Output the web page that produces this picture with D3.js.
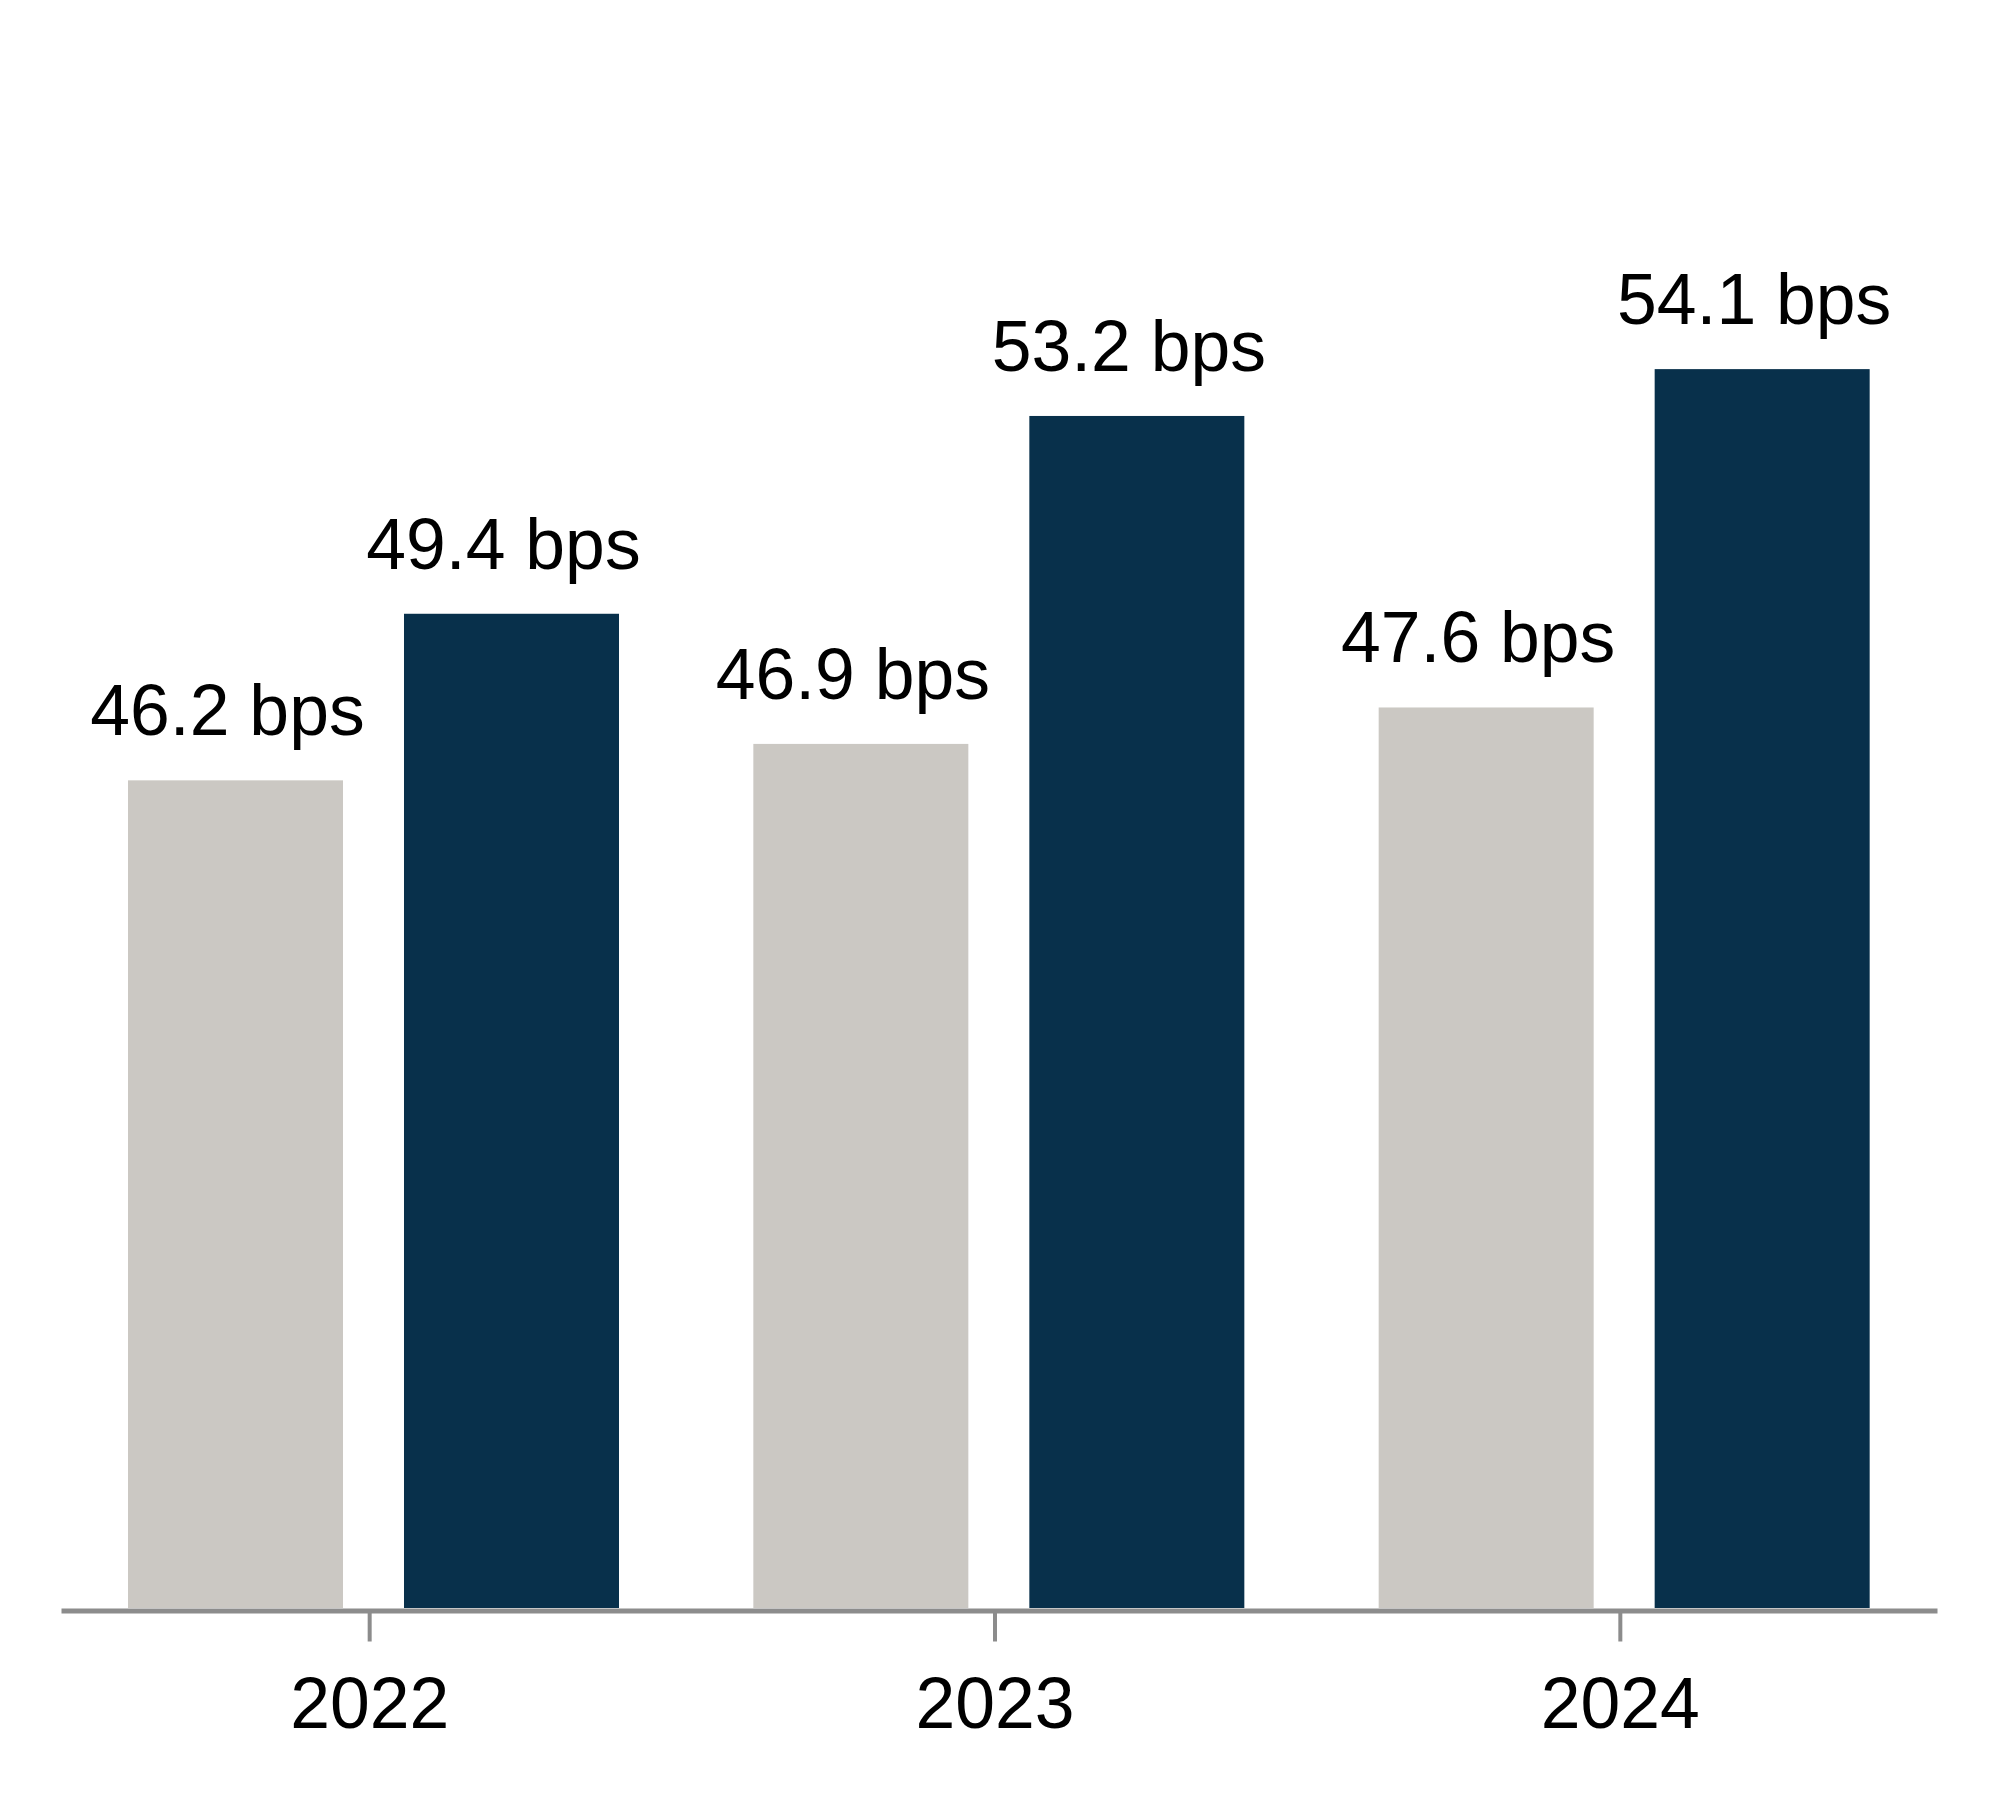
<!DOCTYPE html>
<meta charset="utf-8">
<head>
  <title>bps by year</title>
</head>

<style>
body {
  margin: 0;
  background: #fff;
}
text {
  font-family: "Liberation Sans", Arial, Helvetica, sans-serif;
  fill: #000;
}
.label {
  text-anchor: middle;
  font-size: 71.5px;
}
</style>

<body>
  <svg width="1998" height="1800"></svg>

  <script src="https://cdnjs.cloudflare.com/ajax/libs/d3/7.8.5/d3.min.js"></script>
  <script>
var width = 1998, height = 1800

var years = ['2022', '2023', '2024']
var series = ['a', 'b']
var valuesA = [46.2, 46.9, 47.6]
var valuesB = [49.4, 53.2, 54.1]
var colors = ['#cbc8c3', '#08304b']

var rows = years.map(function(y, i) {
  return { year: y, vals: [valuesA[i], valuesB[i]] }
})

var svg = d3.select('svg')

var x0 = d3.scaleBand()
  .domain(years)
  .range([61, 1937])

var x1 = d3.scaleBand()
  .domain(series)
  .range([67, 558])
  .paddingInner(0.221)

var y = d3.scaleLinear()
  .domain([30.3, 60])
  .range([1608, 62])

var groups = svg.append('g')
  .selectAll('g')
  .data(rows)
  .enter()
  .append('g')
  .attr('transform', function(d) { return 'translate(' + x0(d.year) + ',0)' })

groups.selectAll('rect')
  .data(function(d) { return d.vals.map(function(v, i) { return { s: series[i], v: v, i: i } }) })
  .enter()
  .append('rect')
  .attr('x', function(d) { return x1(d.s) })
  .attr('width', x1.bandwidth())
  .attr('y', function(d) { return y(d.v) })
  .attr('height', function(d) { return y.range()[0] - y(d.v) })
  .attr('fill', function(d) { return colors[d.i] })

groups.selectAll('text')
  .data(function(d) { return d.vals.map(function(v, i) { return { s: series[i], v: v } }) })
  .enter()
  .append('text')
  .attr('class', 'label')
  .attr('x', function(d) { return x1(d.s) + x1.bandwidth() / 2 - 8 })
  .attr('y', function(d) { return y(d.v) - 45 })
  .text(function(d) { return d3.format('.1f')(d.v) + ' bps' })

// x axis
var axis = svg.append('g')
  .attr('transform', 'translate(0,1610.5)')
  .call(d3.axisBottom(x0).tickSize(31).tickSizeOuter(0))

axis.select('.domain')
  .attr('stroke', '#8c8c8c')
  .attr('stroke-width', 5)
axis.selectAll('.tick line')
  .attr('stroke', '#8c8c8c')
  .attr('stroke-width', 4)
  .attr('transform', 'translate(-4,0)')
axis.selectAll('.tick text')
  .attr('x', -4)
  .attr('y', 117)
  .attr('dy', 0)
  .attr('fill', '#000')
  .style('font-size', '71.5px')
  .style('font-family', '"Liberation Sans", Arial, sans-serif')
  </script>
</body>
</html>
